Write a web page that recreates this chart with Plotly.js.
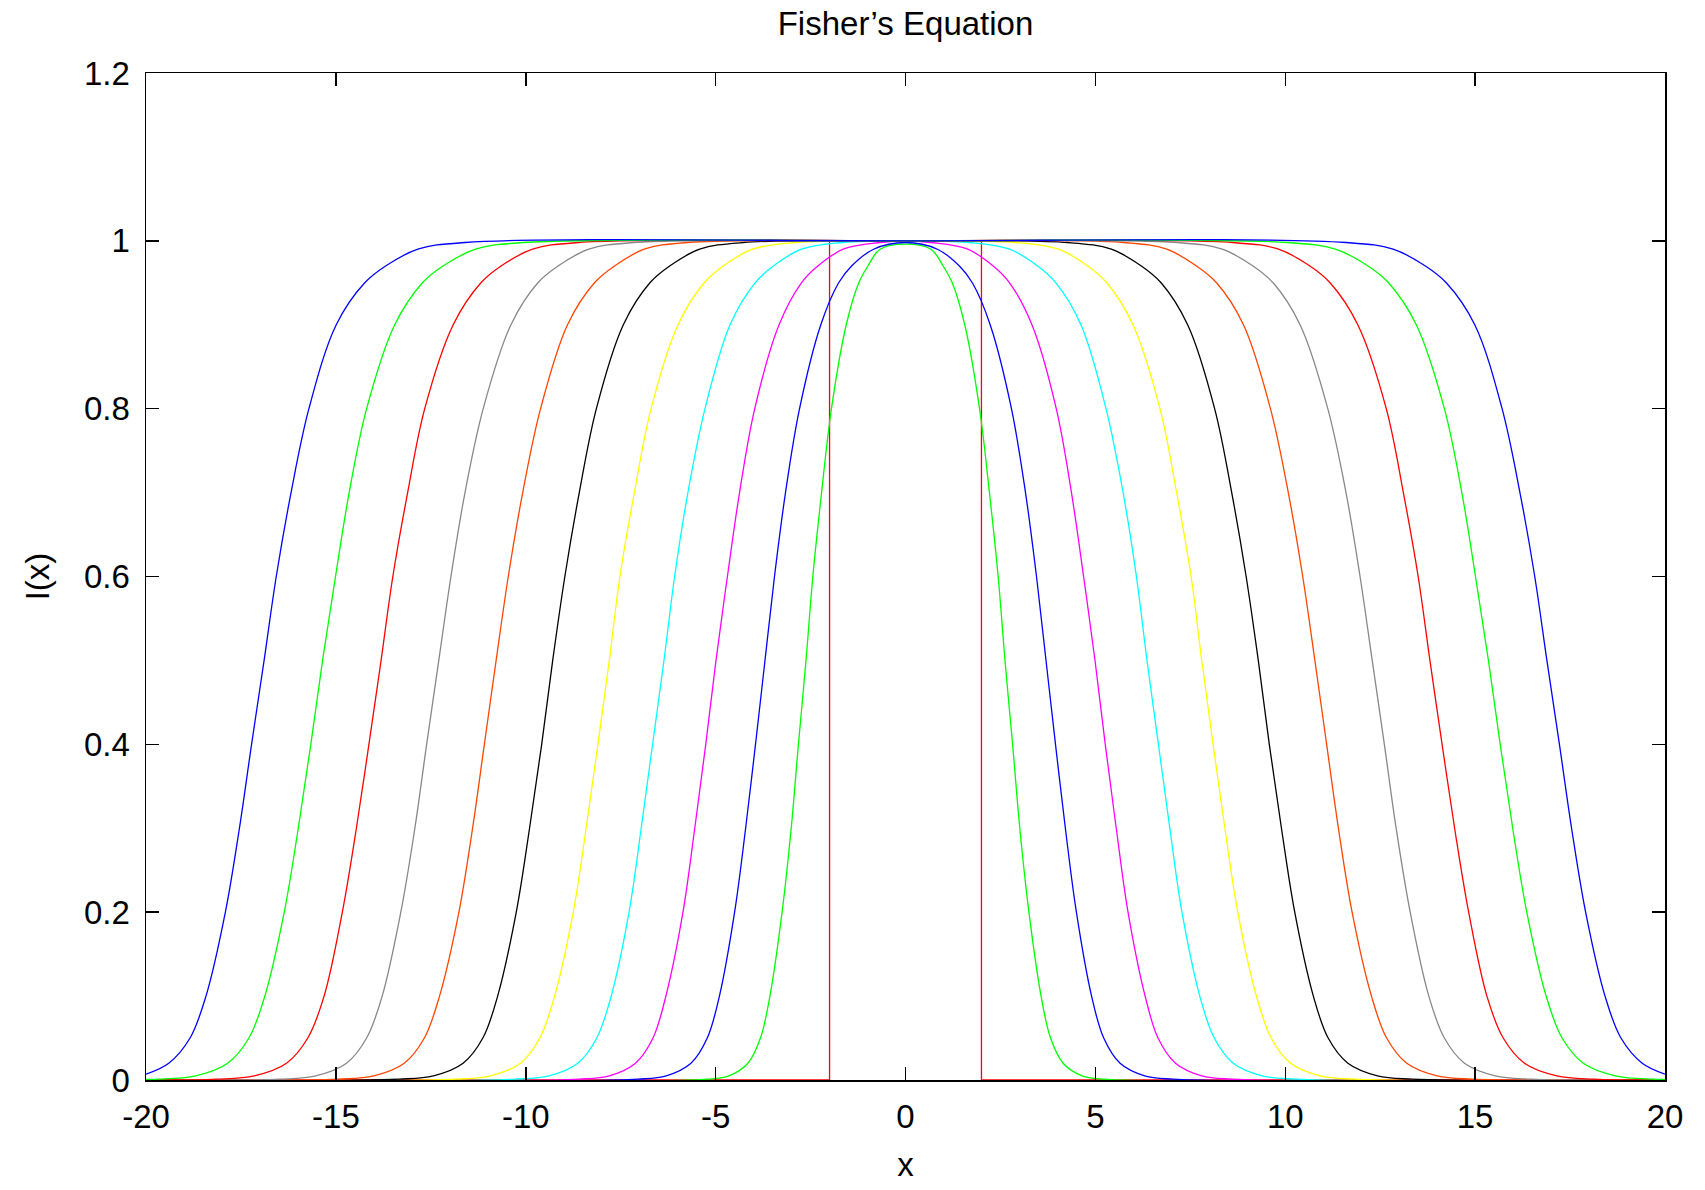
<!DOCTYPE html>
<html>
<head>
<meta charset="utf-8">
<script src="https://cdn.plot.ly/plotly-3.0.1.min.js"></script>
<style>
html,body{margin:0;padding:0;background:#fff;}
#chart{width:1705px;height:1190px;}
</style>
</head>
<body>
<div id="chart"></div>
<script>
// Levels of I(x) at which each front was read (right half; curves are symmetric about x = 0)
const levels = [0.001, 0.005, 0.02, 0.05, 0.1, 0.2, 0.3, 0.4, 0.5, 0.6, 0.7, 0.8, 0.9, 0.95, 0.97, 0.99, 0.998];

// x positions (right side) where each curve crosses the levels above
const curve1  = [5.23, 4.65, 4.15, 3.82, 3.57, 3.25, 3.01, 2.82, 2.62, 2.44, 2.21, 1.95, 1.56, 1.23, 0.99, 0.67, null];
const curve2  = [7.05, 6.30, 5.65, 5.22, 4.90, 4.50, 4.21, 3.95, 3.70, 3.45, 3.16, 2.79, 2.23, 1.76, 1.42, 0.84, null];
const curve3  = [8.60, 7.80, 7.11, 6.65, 6.31, 5.86, 5.55, 5.26, 4.99, 4.69, 4.37, 3.97, 3.33, 2.74, 2.31, 1.64, 0.66];
const curve4  = [10.27, 9.39, 8.63, 8.13, 7.75, 7.28, 6.96, 6.66, 6.36, 6.08, 5.73, 5.28, 4.62, 3.96, 3.48, 2.74, 1.66];
const curve5  = [11.82, 10.92, 10.14, 9.63, 9.24, 8.75, 8.41, 8.10, 7.80, 7.52, 7.14, 6.70, 5.99, 5.30, 4.80, 4.03, 2.91];
const curve6  = [13.34, 12.43, 11.65, 11.13, 10.74, 10.25, 9.90, 9.58, 9.29, 8.97, 8.59, 8.14, 7.43, 6.73, 6.21, 5.42, 4.27];
const curve7  = [14.93, 14.00, 13.20, 12.67, 12.27, 11.76, 11.40, 11.09, 10.78, 10.46, 10.08, 9.61, 8.90, 8.19, 7.66, 6.88, 5.74];
const curve8  = [16.47, 15.53, 14.72, 14.19, 13.78, 13.29, 12.92, 12.61, 12.29, 11.97, 11.60, 11.12, 10.39, 9.68, 9.15, 8.34, 7.16];
const curve9  = [18.14, 17.15, 16.30, 15.74, 15.31, 14.83, 14.46, 14.13, 13.81, 13.50, 13.11, 12.66, 11.91, 11.18, 10.65, 9.82, 8.61];
const curve10 = [19.67, 18.69, 17.85, 17.29, 16.87, 16.36, 15.99, 15.66, 15.35, 15.01, 14.65, 14.19, 13.45, 12.72, 12.18, 11.32, 10.06];
const curve11 = [null, null, 19.40, 18.84, 18.42, 17.91, 17.54, 17.22, 16.89, 16.57, 16.18, 15.71, 14.99, 14.24, 13.69, 12.84, 11.60];

const peakValues = [0.996, 0.998, 1, 1, 1, 1, 1, 1, 1, 1, 1];        // I(0)
const edgeValues = [0, 0, 0, 0, 0, 0, 0, 0, 0, 0.0008, 0.007];      // I(+-20)
const curveColors = ["#00ff00", "#0000ff", "#ff00ff", "#00ffff", "#ffff00", "#000000",
                     "#ff4500", "#888888", "#ff0000", "#00ff00", "#0000ff"];

// Initial condition: box of height 1 on [-2, 2]
const initX = [-20, -2, -2, 2, 2, 20];
const initY = [0, 0, 1, 1, 0, 0];

// Tick labels
const xTickVals = [-20, -15, -10, -5, 0, 5, 10, 15, 20];
const xTickText = ["-20", "-15", "-10", "-5", "0", "5", "10", "15", "20"];
const yTickVals = [0, 0.2, 0.4, 0.6, 0.8, 1, 1.2];
const yTickText = ["0", "0.2", "0.4", "0.6", "0.8", "1", "1.2"];

const xEdge = 20;
const curves = [curve1, curve2, curve3, curve4, curve5, curve6, curve7, curve8, curve9, curve10, curve11];

const traces = [{
  x: initX, y: initY, type: "scatter", mode: "lines",
  line: {color: "#ff0000", width: 1.3}, hoverinfo: "skip", showlegend: false
}];

curves.forEach((cx, i) => {
  const right = [];
  for (let k = levels.length - 1; k >= 0; k--) {
    if (cx[k] !== null) right.push([cx[k], levels[k]]);
  }
  const left = right.slice().reverse().map(p => [-p[0], p[1]]);
  const pts = [[-xEdge, edgeValues[i]]].concat(left, [[0, peakValues[i]]], right, [[xEdge, edgeValues[i]]]);
  traces.push({
    x: pts.map(p => p[0]), y: pts.map(p => p[1]),
    type: "scatter", mode: "lines",
    line: {color: curveColors[i], width: 1.3, shape: "spline", smoothing: 1},
    hoverinfo: "skip", showlegend: false
  });
});

const fontFam = "Liberation Sans, Arial, Helvetica, sans-serif";
const axisCommon = {
  showgrid: false, zeroline: false, showline: true, linecolor: "#000", linewidth: 1.5,
  mirror: "ticks", ticks: "inside", ticklen: 13, tickwidth: 1.5, tickcolor: "#000",
  tickfont: {family: fontFam, size: 33, color: "#000"}, tickmode: "array"
};

const layout = {
  width: 1705, height: 1190,
  paper_bgcolor: "#fff", plot_bgcolor: "#fff",
  margin: {l: 146, r: 40, t: 73, b: 110},
  title: {text: "Fisher\u2019s Equation", font: {family: fontFam, size: 33, color: "#000"},
          x: 905.5/1705, xanchor: "center", y: 1 - 23/1190, yanchor: "middle", yref: "container"},
  xaxis: Object.assign({}, axisCommon, {
    range: [-20, 20], tickvals: xTickVals, ticktext: xTickText,
    title: {text: "x", font: {family: fontFam, size: 33, color: "#000"}, standoff: 19},
    ticklabelstandoff: 7
  }),
  yaxis: Object.assign({}, axisCommon, {
    range: [0, 1.2], tickvals: yTickVals, ticktext: yTickText,
    title: {text: "I(x)", font: {family: fontFam, size: 33, color: "#000"}, standoff: 24},
    ticklabelstandoff: 8
  })
};

Plotly.newPlot("chart", traces, layout, {staticPlot: true, displayModeBar: false});
</script>
</body>
</html>
